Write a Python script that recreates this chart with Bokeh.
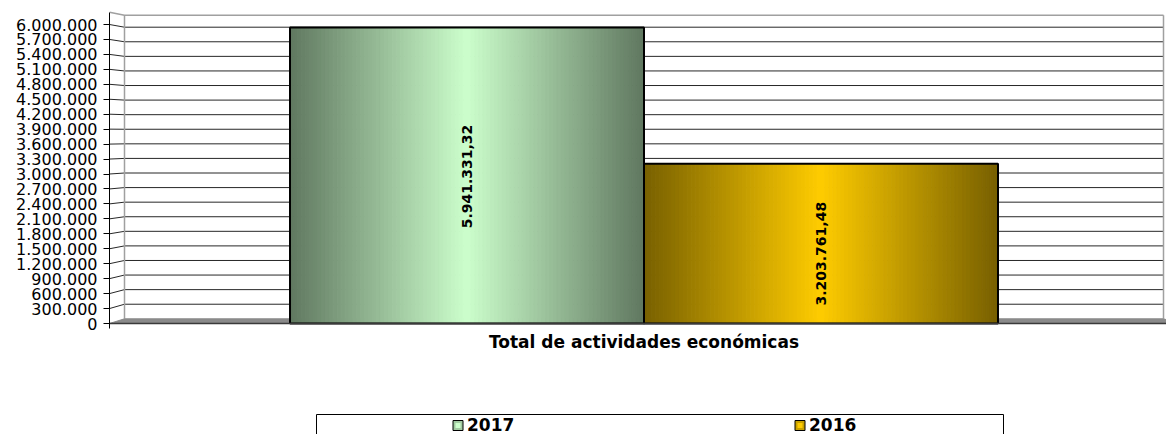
import math
from bokeh.plotting import figure
from bokeh.models import Range1d, FixedTicker
from bokeh.core.properties import value
from bokeh.embed import file_html
from bokeh.resources import INLINE

# ---------------- data ----------------
CATEGORY = "Total de actividades económicas"
SERIES = ["2017", "2016"]
VALUES = [5941331.32, 3203761.48]
CENTER_COLORS = ["#CCFFCC", "#FFCC00"]
Y_TICKS = list(range(0, 6000001, 300000))
Y_TICK_LABELS = [f"{t:,}".replace(",", ".") for t in Y_TICKS]


def es_fmt(v):
    s = f"{v:,.2f}"
    return s.replace(",", "X").replace(".", ",").replace("X", ".")


VALUE_LABELS = [es_fmt(v) for v in VALUES]

# ---------------- layout / style ----------------
W, H = 1166, 434
MARGIN = 0
AX_X = 109          # front axis (page px)
WALL_L, WALL_R = 124, 1163
ZERO_Y, TOP_TICK_Y = 323, 24
BACK_ZERO_Y, BACK_TOP_Y = 318.3, 26.7
K = (ZERO_Y - TOP_TICK_Y) / Y_TICKS[-1]
XK = WALL_R - WALL_L
BAR_W = 0.3407
EDGE_FACTOR = 0.47
N_STRIPS = 90
LABEL_DY = [1, 10]
FONT = value("DejaVu Sans")


def X(px):
    return (px - WALL_L) / XK


def Y(py):
    return (ZERO_Y - py) / K


def back(v):
    return Y(BACK_ZERO_Y + (BACK_TOP_Y - BACK_ZERO_Y) * v / Y_TICKS[-1])


DX = X(AX_X)
WALL_TOP = Y(11.7)

p = figure(width=W, height=H, output_backend="svg", toolbar_location=None,
           x_range=Range1d(X(AX_X), X(MARGIN + W)),
           y_range=Range1d(Y(MARGIN + H), Y(MARGIN)),
           x_axis_location=None, min_border_left=AX_X - MARGIN,
           min_border_right=0, min_border_top=0, min_border_bottom=0)
p.outline_line_color = None
p.xgrid.visible = False
p.ygrid.visible = False
p.background_fill_color = "white"

ax = p.yaxis[0]
ax.ticker = FixedTicker(ticks=Y_TICKS)
ax.major_label_overrides = {t: l for t, l in zip(Y_TICKS, Y_TICK_LABELS)}
ax.bounds = (Y(328), WALL_TOP)
ax.axis_line_color = "black"
ax.major_tick_out = 6
ax.major_tick_in = 0
ax.minor_tick_line_color = None
ax.major_tick_line_color = "black"
ax.major_label_standoff = 6
ax.major_label_text_font = "DejaVu Sans"
ax.major_label_text_font_size = "16px"
ax.major_label_text_color = "black"

# back wall gridlines (front tick -> back wall)
gx, gy = [], []
for t in Y_TICKS[1:]:
    gx.append([DX, 0, 1])
    gy.append([t, back(t), back(t)])
p.multi_line(gx, gy, line_color="black", line_width=1, line_alpha=0.85)

# back wall outline
p.multi_line([[0, 0], [DX, 0, 1], [1, 1]],
             [[back(0), back(WALL_TOP)], [WALL_TOP, back(WALL_TOP), back(WALL_TOP)],
              [back(0), back(WALL_TOP)]],
             line_color="#a0a0a0", line_width=1.5)

# floor
p.patch([DX, 0, 1, 1 - DX], [0, back(0), back(0), 0],
        fill_color="#8a8a8a", line_color="#8a8a8a", line_width=1)


def hex_rgb(h):
    h = h.lstrip("#")
    return [int(h[i:i + 2], 16) for i in (0, 2, 4)]


def mix(c1, c2, s):
    return "#%02x%02x%02x" % tuple(int(round(a + (b - a) * s)) for a, b in zip(c1, c2))


# bars with horizontal "edge-center-edge" gradient
for i, (v, col) in enumerate(zip(VALUES, CENTER_COLORS)):
    center = hex_rgb(col)
    edge = [c * EDGE_FACTOR for c in center]
    left0 = 0.5 - BAR_W + i * BAR_W
    lefts, rights, cols = [], [], []
    for j in range(N_STRIPS):
        l = left0 + j * BAR_W / N_STRIPS
        r = l + BAR_W / N_STRIPS
        tm = (j + 0.5) / N_STRIPS
        s = 1 - abs(2 * tm - 1)
        c = mix(edge, center, s)
        lefts.append(l)
        rights.append(r)
        cols.append(c)
    p.quad(left=lefts, right=rights, bottom=[0] * N_STRIPS, top=[v] * N_STRIPS,
           fill_color=cols, line_color=cols, line_width=1)
    p.quad(left=[left0], right=[left0 + BAR_W], bottom=[0], top=[v],
           fill_color=None, line_color="black", line_width=2)

# floor front edge
p.line([DX, 1 - DX], [0, 0], line_color="#3a3a3a", line_width=1.5)

# value labels
centers = [0.5 - BAR_W / 2 + i * BAR_W for i in range(len(VALUES))]
p.text(x=centers, y=[v / 2 for v in VALUES], text=VALUE_LABELS,
       angle=math.pi / 2, y_offset=LABEL_DY,
       text_font=FONT, text_font_style="bold", text_font_size="14px",
       text_align="center", text_baseline="middle", text_color="black")

# category label
p.text(x=[0.5], y=[Y(341)], text=[CATEGORY], text_font=FONT,
       text_font_style="bold", text_font_size="17px",
       text_align="center", text_baseline="middle", text_color="black")

# legend (drawn manually)
LEG_TOP, LEG_L, LEG_R, LEG_Y = 414, 316, 1003, 424
p.multi_line([[X(LEG_L), X(LEG_L), X(LEG_R), X(LEG_R)]],
             [[Y(470), Y(LEG_TOP), Y(LEG_TOP), Y(470)]],
             line_color="black", line_width=1)
leg_marker_x = [457.5, 799.5]
for i, (name, col) in enumerate(zip(SERIES, CENTER_COLORS)):
    center = hex_rgb(col)
    edge = [c * EDGE_FACTOR for c in center]
    mx = X(leg_marker_x[i])
    p.rect(x=[mx], y=[Y(LEG_Y + 1)], width=10, height=10, width_units="screen",
           height_units="screen", fill_color=mix(edge, center, 0.6),
           line_color="black", line_width=1)
    p.rect(x=[mx], y=[Y(LEG_Y + 1)], width=5, height=5, width_units="screen",
           height_units="screen", fill_color=col, line_color=None)
    p.text(x=[X(leg_marker_x[i] + 9)], y=[Y(LEG_Y)], text=[name], text_font=FONT,
           text_font_style="bold", text_font_size="17px",
           text_align="left", text_baseline="middle", text_color="black")

open("out.html", "w").write(file_html(p, INLINE))
